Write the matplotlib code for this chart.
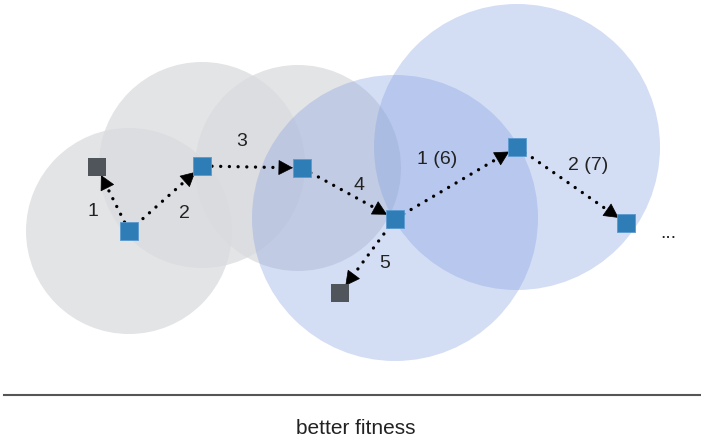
#sketch of a search path over fitness regions

import numpy as np
import matplotlib
matplotlib.use('Agg')
import matplotlib.pyplot as plt
from matplotlib.patches import Circle

# node positions (pixel space of the 701x441 image, y down)
blue_x=[129, 202, 302, 395, 517, 626]
blue_y=[231, 166, 168, 219, 147, 223]
gray_x=[97, 340]
gray_y=[167, 293]

# neighbourhood circles
gray_cx=[129, 202, 298]
gray_cy=[231, 165, 168]
gray_r=[103, 103, 103]
blue_cx=[395, 517]
blue_cy=[218, 147]
blue_r=[143, 143]

# moves: (from, to) points
moves=[((129, 231), (97, 167)),
       ((129, 231), (202, 166)),
       ((202, 166), (302, 168)),
       ((302, 168), (395, 219)),
       ((395, 219), (340, 293)),
       ((395, 219), (517, 147)),
       ((517, 147), (626, 223))]

labels=['1', '2', '3', '4', '5', '1 (6)', '2 (7)', '...']
label_x=[93, 184, 242, 359, 385, 437, 588, 668]
label_y=[212, 214, 142, 186, 264, 160, 166, 233]

W, H = 701, 441
fig=plt.figure(figsize=(W/100, H/100), dpi=100)
ax=fig.add_axes([0, 0, 1, 1])
ax.set_xlim(0, W)
ax.set_ylim(H, 0)
ax.axis('off')

for cx, cy, r in zip(gray_cx, gray_cy, gray_r):
    ax.add_patch(Circle((cx, cy), r, facecolor=(218/255, 219/255, 222/255), alpha=0.75, edgecolor='none', zorder=1))
for cx, cy, r in zip(blue_cx, blue_cy, blue_r):
    ax.add_patch(Circle((cx, cy), r, facecolor=(134/255, 162/255, 225/255), alpha=0.36, edgecolor='none', zorder=2))

for (p, q) in moves:
    p=np.array(p, float)
    q=np.array(q, float)
    u=(q-p)/np.linalg.norm(q-p)
    start=p+u*10
    end=q-u*9
    ax.plot([start[0], (end-u*11)[0]], [start[1], (end-u*11)[1]], color='black',
            lw=2.4, linestyle=(0, (0.01, 2.6)), dash_capstyle='round', zorder=3)
    ax.annotate('', xy=end, xytext=end-u*12,
                arrowprops=dict(arrowstyle='-|>,head_length=0.8,head_width=0.42', color='black',
                                lw=0.5, shrinkA=0, shrinkB=0, mutation_scale=12), zorder=4)

ax.scatter(blue_x, blue_y, marker='s', s=150, color='#2f7db6', edgecolors='#5b9ad0', linewidths=0.6, zorder=5)
ax.scatter(gray_x, gray_y, marker='s', s=150, color='#50545b', edgecolors='none', zorder=5)

for t, x, y in zip(labels, label_x, label_y):
    ax.text(x, y, t, fontsize=14, family='Liberation Sans', color='#222222',
            ha='center', va='center', zorder=6)

ax.plot([4, 701], [395, 395], color='#555555', lw=1.5, zorder=1)
ax.text(356, 429, 'better fitness', fontsize=15, family='Liberation Sans',
        color='#222222', ha='center', va='center')

fig.savefig('out.png', dpi=100)
